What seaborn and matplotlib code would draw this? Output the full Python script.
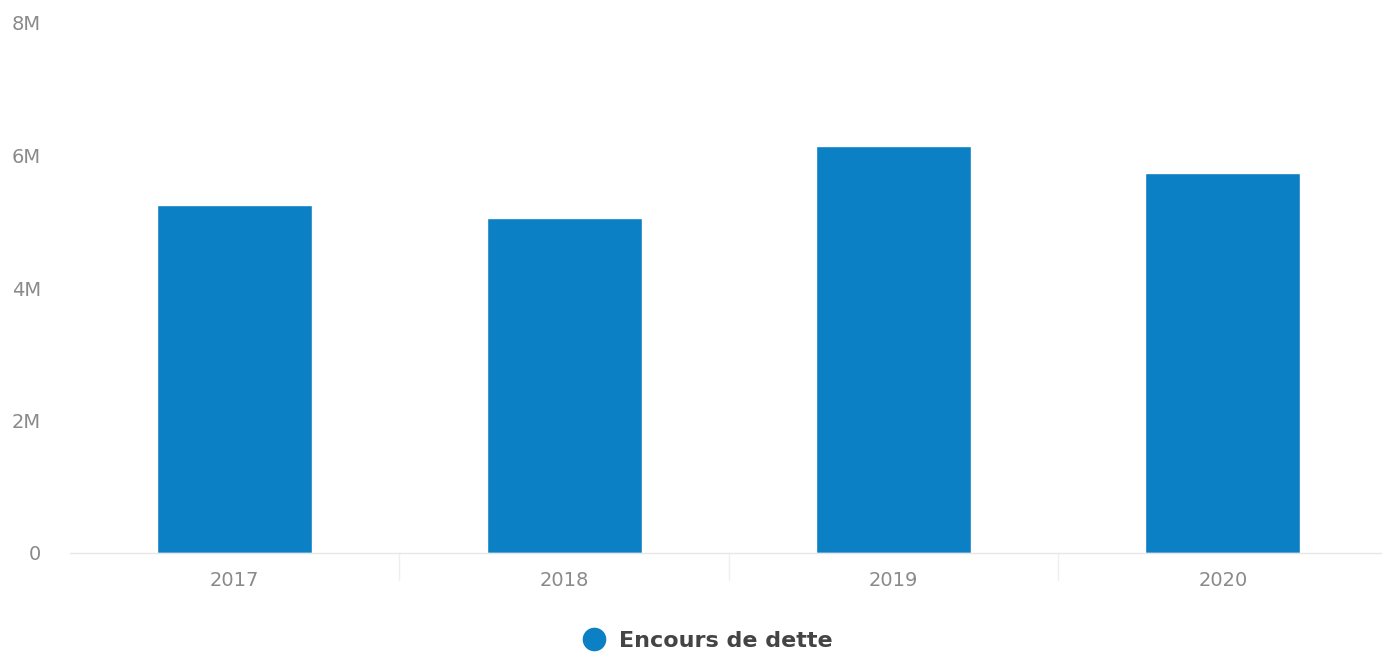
import matplotlib
matplotlib.use("Agg")
import matplotlib.pyplot as plt
from matplotlib.lines import Line2D
import seaborn as sns
import pandas as pd

# Data
years = ["2017", "2018", "2019", "2020"]
encours = [5.25e6, 5.05e6, 6.14e6, 5.73e6]
series_name = "Encours de dette"

BAR_COLOR = "#0B80C4"
TICK_COLOR = "#8a8a8a"

sns.set_theme(style="white")
plt.rcParams["font.family"] = ["DejaVu Sans"]

df = pd.DataFrame({"year": years, "value": encours})

fig = plt.figure(figsize=(13.82, 6.53), dpi=100)
ax = fig.add_axes([70 / 1382, 100 / 653, 1312 / 1382, 530 / 653])

sns.barplot(data=df, x="year", y="value", color=BAR_COLOR, width=0.47,
            saturation=1, ax=ax)

ax.set_xlim(-0.5, 3.483)
ax.set_ylim(0, 8e6)
ax.set_yticks([0, 2e6, 4e6, 6e6, 8e6])
ax.set_yticklabels(["0", "2M", "4M", "6M", "8M"])
ax.set_xlabel("")
ax.set_ylabel("")

for s in ["top", "right", "left"]:
    ax.spines[s].set_visible(False)
ax.spines["bottom"].set_color("#e6e6e6")
ax.spines["bottom"].set_linewidth(1)

ax.tick_params(axis="y", length=0, pad=21, labelsize=14, labelcolor=TICK_COLOR)
ax.tick_params(axis="x", length=0, pad=13, labelsize=14, labelcolor=TICK_COLOR)

# faint category boundary ticks
for b in [0.5, 1.5, 2.5]:
    ax.plot([b, b], [0, -0.05], transform=ax.get_xaxis_transform(),
            color="#efefef", lw=1, clip_on=False)

handle = Line2D([0], [0], marker="o", linestyle="", markersize=16,
                markerfacecolor=BAR_COLOR, markeredgecolor=BAR_COLOR)
fig.legend([handle], [series_name], loc="center", bbox_to_anchor=(0.508, 0.018),
           frameon=False, handletextpad=0.1,
           prop={"size": 16, "weight": "bold"}, labelcolor="#444444")

fig.savefig("out.png", dpi=100)
